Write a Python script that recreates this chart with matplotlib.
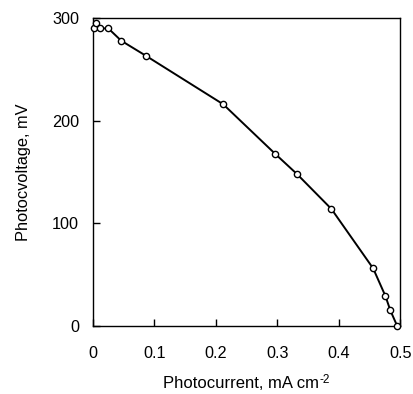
import matplotlib.pyplot as plt

plt.rcParams['font.family'] = ['Liberation Sans', 'DejaVu Sans']

# photocurrent (mA cm-2) and photovoltage (mV)
current = [0.002, 0.005, 0.012, 0.025, 0.046, 0.087, 0.212, 0.296, 0.332, 0.388, 0.456, 0.476, 0.484, 0.495]
voltage = [290, 295, 290, 290, 278, 263, 216, 168, 148, 114, 56, 29, 15, 0]

fig = plt.figure(figsize=(4.13, 3.94), dpi=100)
ax = fig.add_axes([0.225, 0.173, 0.744, 0.781])

ax.plot(current, voltage, color='black', lw=1.4, marker='o', ms=4.5,
        mfc='white', mec='black', mew=1.0, clip_on=False, zorder=3)

ax.set_xlim(0, 0.5)
ax.set_ylim(0, 300)
ax.set_xticks([0, 0.1, 0.2, 0.3, 0.4, 0.5])
ax.set_xticklabels(['0', '0.1', '0.2', '0.3', '0.4', '0.5'])
ax.set_yticks([0, 100, 200, 300])
ax.tick_params(direction='in', length=5, width=1, labelsize=11.7)
ax.tick_params(axis='x', pad=14.5)
ax.tick_params(axis='y', pad=10)

for s in ax.spines.values():
    s.set_linewidth(1.0)

ax.set_xlabel('Photocurrent, mA cm', fontsize=12, labelpad=11)
ax.set_ylabel('Photocvoltage, mV', fontsize=11.8, labelpad=15)

# superscript "-2" after the x label, whole label kept centred
sup = fig.text(0, 0, '-2', fontsize=8.5, ha='left', va='center')
fig.canvas.draw()
sw = sup.get_window_extent().width
ax.xaxis.label.set_x(0.5 - sw / 2 / ax.bbox.width)
fig.canvas.draw()
bb = ax.xaxis.label.get_window_extent()
x0, y0 = fig.transFigure.inverted().transform((bb.x1 + 0.5, bb.y1 - 4))
sup.set_position((x0, y0))

fig.savefig('out.png', dpi=100)
